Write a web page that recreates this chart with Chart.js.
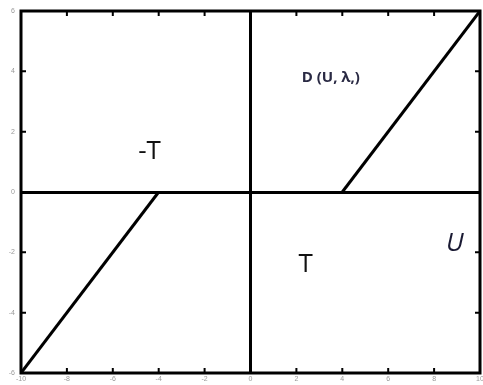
<!DOCTYPE html>
<html>
<head>
<meta charset="utf-8">
<script src="https://cdn.jsdelivr.net/npm/chart.js@4/dist/chart.umd.min.js"></script>
<style>
  html, body { margin: 0; padding: 0; background: #fff; }
  #wrap { width: 483px; height: 385px; }
</style>
</head>
<body>
<div id="wrap"><canvas id="chart"></canvas></div>
<script>
// данные: мягкий порог
const leftX = [-10, -4];
const leftY = [-6, 0];
const rightX = [4, 10];
const rightY = [0, 6];
const xTicks = [-10, -8, -6, -4, -2, 0, 2, 4, 6, 8, 10];
const yTicks = [-6, -4, -2, 0, 2, 4, 6];

// подписи на графике
const labels = [
    { text: 'D (U, λ,)', x: 3.5, y: 3.78, font: 'bold 15px "Open Sans", sans-serif', color: '#2a2a44' },
    { text: '-T', x: -4.4, y: 1.33, font: '26px "Open Sans", sans-serif', color: '#111' },
    { text: 'T', x: 2.4, y: -2.4, font: '26px "Open Sans", sans-serif', color: '#111' },
    { text: 'U', x: 8.9, y: -1.7, font: 'italic 26px "Open Sans", sans-serif', color: '#1a1a33' }
];

const toPoints = (xs, ys) => xs.map((x, i) => ({ x: x, y: ys[i] }));

// рамка, внутренние засечки и подписи
const framePlugin = {
    id: 'frame',
    afterDraw(chart) {
        const { ctx, chartArea: a, scales } = chart;
        ctx.save();
        ctx.strokeStyle = '#000';
        ctx.lineWidth = 2;
        xTicks.forEach(v => {
            const px = scales.x.getPixelForValue(v);
            ctx.beginPath();
            ctx.moveTo(px, a.bottom); ctx.lineTo(px, a.bottom - 5);
            ctx.moveTo(px, a.top); ctx.lineTo(px, a.top + 5);
            ctx.stroke();
        });
        yTicks.forEach(v => {
            const py = scales.y.getPixelForValue(v);
            ctx.beginPath();
            ctx.moveTo(a.left, py); ctx.lineTo(a.left + 5, py);
            ctx.moveTo(a.right, py); ctx.lineTo(a.right - 5, py);
            ctx.stroke();
        });
        ctx.lineWidth = 3;
        ctx.strokeRect(a.left, a.top, a.right - a.left, a.bottom - a.top);

        ctx.textAlign = 'center';
        ctx.textBaseline = 'middle';
        labels.forEach(l => {
            ctx.font = l.font;
            ctx.fillStyle = l.color;
            ctx.fillText(l.text, scales.x.getPixelForValue(l.x), scales.y.getPixelForValue(l.y));
        });
        ctx.restore();
    }
};

const zeroGrid = {
    color: c => (c.tick && c.tick.value === 0) ? '#000' : 'rgba(0,0,0,0)',
    lineWidth: 3,
    drawTicks: false
};

new Chart(document.getElementById('chart'), {
    type: 'scatter',
    data: {
        datasets: [
            { data: toPoints(leftX, leftY) },
            { data: toPoints(rightX, rightY) }
        ]
    },
    options: {
        responsive: true,
        maintainAspectRatio: false,
        animation: false,
        showLine: true,
        borderColor: '#000',
        borderWidth: 3,
        pointRadius: 0,
        layout: { padding: { top: 11, right: 3, left: 0, bottom: 0 } },
        plugins: { legend: { display: false }, tooltip: { enabled: false } },
        scales: {
            x: {
                type: 'linear', min: -10, max: 10,
                afterBuildTicks: s => { s.ticks = xTicks.map(v => ({ value: v })); },
                afterFit: s => { s.height = 12; s.paddingRight = 0; s.paddingLeft = 0; },
                grid: zeroGrid,
                border: { display: false },
                ticks: { color: '#999', font: { size: 7 }, padding: 2, maxRotation: 0 }
            },
            y: {
                type: 'linear', min: -6, max: 6,
                afterBuildTicks: s => { s.ticks = yTicks.map(v => ({ value: v })); },
                afterFit: s => { s.width = 21; },
                grid: zeroGrid,
                border: { display: false },
                ticks: { color: '#999', font: { size: 7 }, padding: 6 }
            }
        }
    },
    plugins: [framePlugin]
});
</script>
</body>
</html>
